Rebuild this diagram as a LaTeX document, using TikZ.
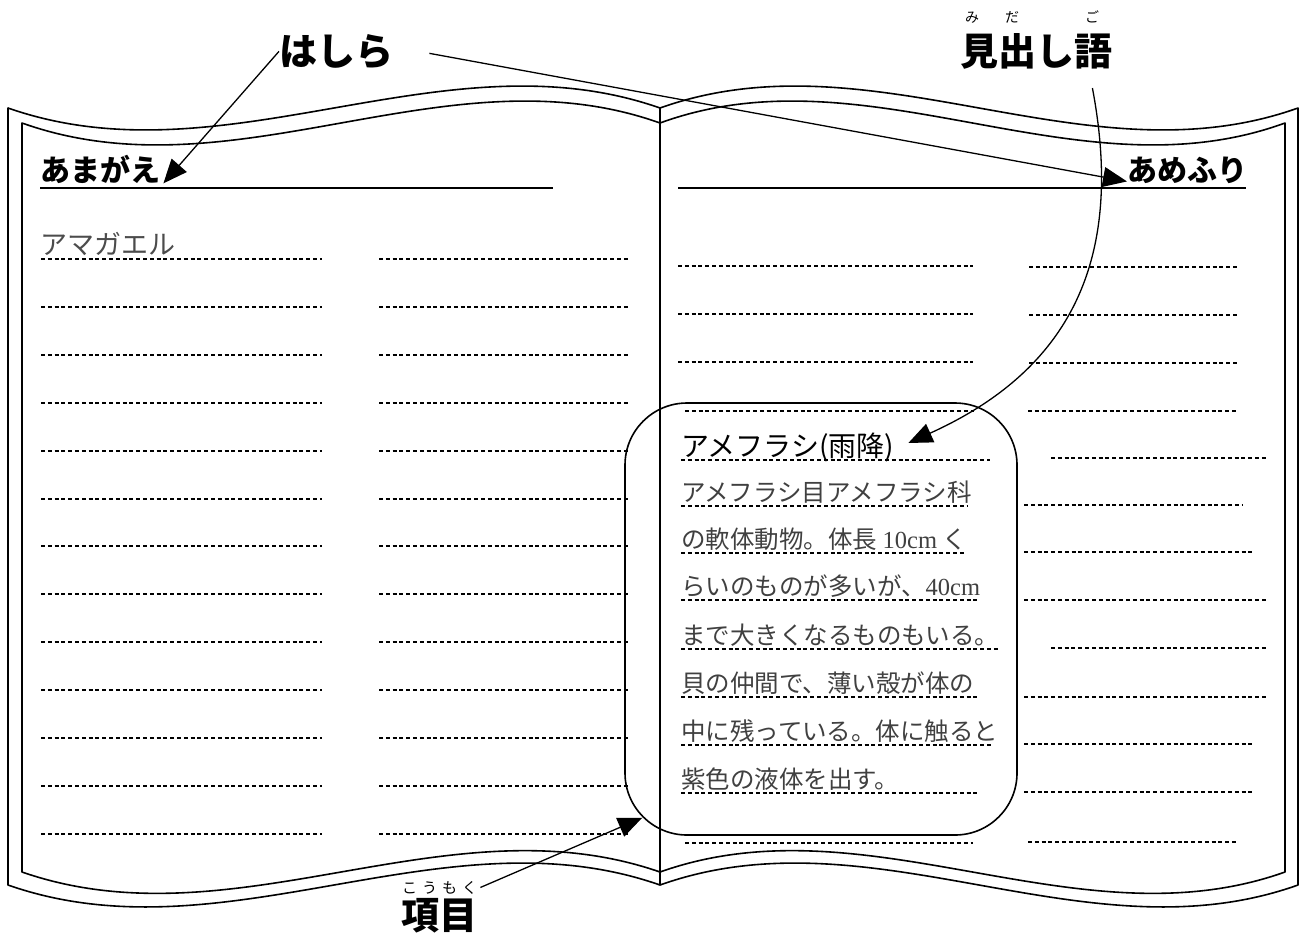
\documentclass[tikz,border=0pt]{standalone}
\usepackage{fontspec}
\setmainfont{Liberation Serif}
\newfontfamily\jp{Noto Sans CJK JP}
\newfontfamily\lat{Liberation Serif}
\usetikzlibrary{arrows.meta}
\begin{document}
\begin{tikzpicture}[x=1pt,y=-1pt,
  outline/.style={line width=1.6pt, line join=round},
  dotline/.style={line width=2pt, dash pattern=on 4pt off 2.8pt},
  headrule/.style={line width=2.4pt},
  biglabel/.style={font=\jp\bfseries\fontsize{38}{40}\selectfont, inner sep=0pt, anchor=base west},
  ruby/.style={font=\jp\fontsize{14}{16}\selectfont, inner sep=0pt, anchor=base},
  header/.style={font=\jp\bfseries\fontsize{30}{32}\selectfont, inner sep=0pt, anchor=base west},
  bodytext/.style={font=\jp\fontsize{24.5}{28}\selectfont, text=black!75, inner sep=0pt, anchor=base west},
  headword/.style={font=\jp\fontsize{28}{30}\selectfont, inner sep=0pt, anchor=base west},
  pointer/.style={line width=1.3pt, -{Triangle[length=24pt,width=20pt]}},
  itembox/.style={draw, line width=1.6pt, rounded corners=62pt, minimum width=392pt, minimum height=432pt, inner sep=0pt}
]
\useasboundingbox (0,0) rectangle (1303,938);

% book outline
\draw[outline] (8,108) -- (8,885)
  .. controls (225,961) and (443,809) .. (660,885)
  .. controls (873,809) and (1085,961) .. (1298,885)
  -- (1298,108)
  .. controls (1085,184) and (873,32) .. (660,108)
  .. controls (443,32) and (225,184) .. (8,108) -- cycle;
\draw[outline] (22,123) -- (22,872)
  .. controls (235,946) and (447,798) .. (660,872)
  .. controls (868,798) and (1077,946) .. (1285,872)
  -- (1285,123)
  .. controls (1077,199) and (868,47) .. (660,123)
  .. controls (447,47) and (235,199) .. (22,123) -- cycle;
\draw[outline] (660,108) -- (660,885);

% left page lines
\foreach \i in {0,...,12} {
  \pgfmathsetmacro\yy{259+47.9*\i}
  \draw[dotline] (41,\yy) -- (322,\yy);
  \draw[dotline] (379,\yy) -- (629,\yy);
}
% right page lines, first column
\foreach \yy/\xa/\xb in {266/678/973, 314/678/973, 362/678/973, 411/685/974, 843/685/973,
  460/681/990, 506/681/968, 553/681/965, 600/681/977, 649/681/999, 697/681/977, 745/681/992, 793/681/977} {
  \draw[dotline] (\xa,\yy) -- (\xb,\yy);
}
% right page lines, second column
\foreach \yy/\xa/\xb in {267/1029/1237, 315/1029/1237, 363/1029/1237, 411/1028/1237, 458/1051/1268,
  505/1024/1243, 552/1024/1252, 600/1024/1266, 648/1051/1268, 697/1024/1268, 744/1024/1252,
  792/1024/1252, 842/1028/1237} {
  \draw[dotline] (\xa,\yy) -- (\xb,\yy);
}

% headers
\node[header] (amagae) at (40,181) {あまがえ};
\draw[headrule] (40,188) -- (553,188);
\node[header] (amefuri) at (1127,181) {あめふり};
\draw[headrule] (678,188) -- (1246,188);

\node[bodytext, font=\jp\fontsize{27}{30}\selectfont, text=black!70] (amagaeru) at (40,254) {アマガエル};

% entry box
\node[itembox] (box) at (821,619) {};
\node[headword] (entry) at (681,456) {アメフラシ(雨降)};
\node[bodytext] (b1) at (681,501) {アメフラシ目アメフラシ科};
\node[bodytext] (b2) at (681,548) {の軟体動物。体長 {\lat 10cm} く};
\node[bodytext] (b3) at (681,595) {らいのものが多いが、{\lat 40cm}};
\node[bodytext] (b4) at (681,644) {まで大きくなるものもいる。};
\node[bodytext] (b5) at (681,692) {貝の仲間で、薄い殻が体の};
\node[bodytext] (b6) at (681,740) {中に残っている。体に触ると};
\node[bodytext] (b7) at (681,788) {紫色の液体を出す。};

% labels
\node[biglabel] (hashira) at (279,65) {はしら};
\node[biglabel] (midashi) at (960,65) {見出し語};
\node[ruby] (rmi) at (972,22) {み};
\node[ruby] (rda) at (1012,22) {だ};
\node[ruby] (rgo) at (1092,22) {ご};
\node[biglabel] (koumoku) at (401,929) {項目};
\node[ruby, font=\jp\fontsize{15}{17}\selectfont, anchor=base west] (rkoumoku) at (402,893) {こ\hspace{5pt}う\hspace{5pt}も\hspace{5pt}く};

% connectors
\draw[pointer] (hashira.west) -- ([xshift=3pt]amagae.south east);
\draw[pointer] ([xshift=36pt,yshift=-2pt]hashira.east) -- ([yshift=2pt]amefuri.south west);
\draw[pointer] ([xshift=-20pt,yshift=-19pt]midashi.south east)
  .. controls (1125,260) and (1070,370) .. ([xshift=14pt,yshift=4pt]entry.east);
\draw[pointer] ([xshift=3pt]rkoumoku.east) -- ([shift={(18pt,18pt)}]box.south west);
\end{tikzpicture}
\end{document}
